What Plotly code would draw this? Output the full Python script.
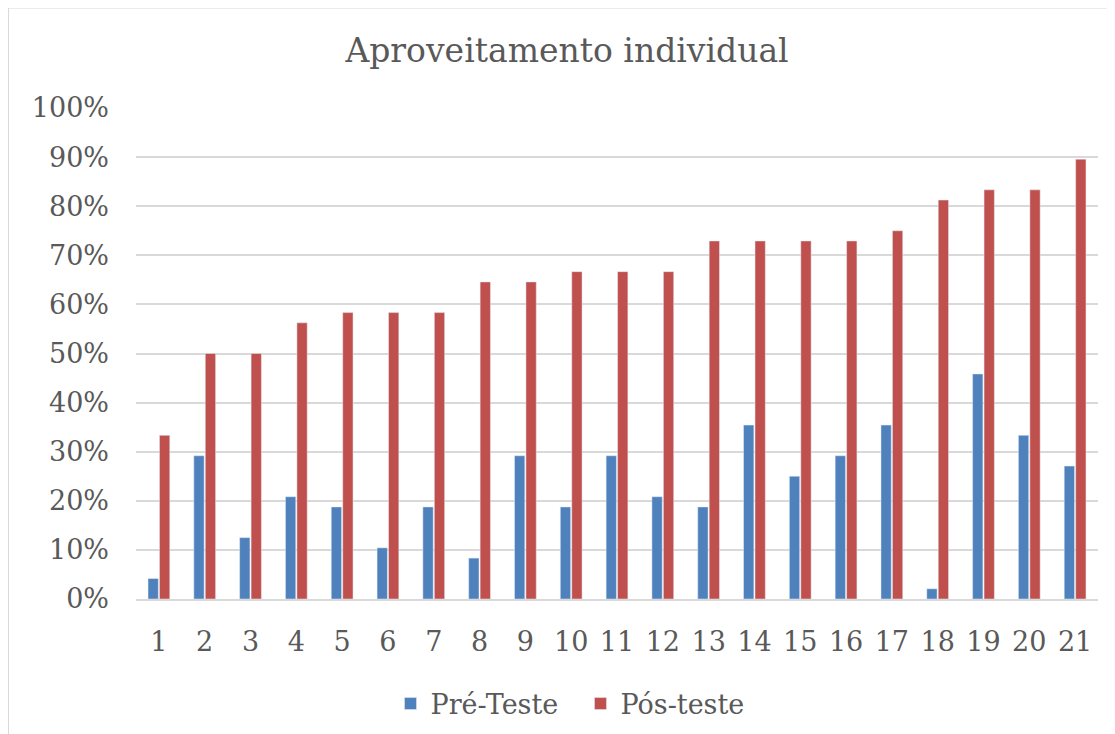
import plotly.graph_objects as go

categories = [str(i) for i in range(1, 22)]
pre_teste = [0.0417, 0.2917, 0.125, 0.2083, 0.1875, 0.1042, 0.1875, 0.0833, 0.2917, 0.1875,
             0.2917, 0.2083, 0.1875, 0.3542, 0.25, 0.2917, 0.3542, 0.0208, 0.4583, 0.3333, 0.2708]
pos_teste = [0.3333, 0.50, 0.50, 0.5625, 0.5833, 0.5833, 0.5833, 0.6458, 0.6458, 0.6667,
             0.6667, 0.6667, 0.7292, 0.7292, 0.7292, 0.7292, 0.75, 0.8125, 0.8333, 0.8333, 0.8958]
tick_vals = [i / 10 for i in range(11)]
tick_text = [f"{i*10}%" for i in range(11)]

FONT = "DejaVu Serif"
GRAY = "#595959"

fig = go.Figure()
fig.add_trace(go.Bar(x=categories, y=pre_teste, name="Pré-Teste\u00a0\u00a0", marker_color="#4F81BD"))
fig.add_trace(go.Bar(x=categories, y=pos_teste, name="Pós-teste", marker_color="#C0504D"))

OFF = 8  # page body margin
W, H = 1115 - OFF, 734 - OFF
L, R, T, B = 136 - OFF, 17, 108 - OFF, 135
pw, ph = W - L - R, H - T - B

fig.update_layout(
    width=W, height=H,
    margin=dict(l=L, r=R, t=T, b=B, autoexpand=False),
    paper_bgcolor="white", plot_bgcolor="white",
    barmode="group", bargap=0.5, bargroupgap=0.1,
    font=dict(family=FONT, color=GRAY, size=27),
    title=dict(text="Aproveitamento individual", x=(567 - OFF) / W, xanchor="center",
               y=1 - (50 - OFF) / H, yanchor="middle", font=dict(size=33, color=GRAY, family=FONT)),
    xaxis=dict(showgrid=False, showline=True, linecolor="#D9D9D9", linewidth=2, automargin=False,
               ticks="", tickfont=dict(size=27, color=GRAY), ticklabelstandoff=18),
    yaxis=dict(range=[0, 1], tickvals=tick_vals, ticktext=tick_text, showgrid=True, automargin=False,
               gridcolor="#D9D9D9", gridwidth=1.5, zeroline=False, showline=False,
               ticks="", tickfont=dict(size=27, color=GRAY), ticklabelstandoff=26),
    legend=dict(orientation="h", xref="container", yref="container",
                x=(570 - OFF) / W, xanchor="center", y=1 - (704 - OFF) / H,
                yanchor="middle", font=dict(size=27, color=GRAY), itemwidth=30,
                traceorder="normal"),
    shapes=[dict(type="rect", xref="paper", yref="paper",
                 x0=(8 - 136) / pw, x1=(1130 - 136) / pw,
                 y0=-(750 - 599) / ph, y1=1 + (108 - 7.5) / ph,
                 line=dict(color="#D9D9D9", width=2), layer="below")],
)

fig.write_html("out.html")
